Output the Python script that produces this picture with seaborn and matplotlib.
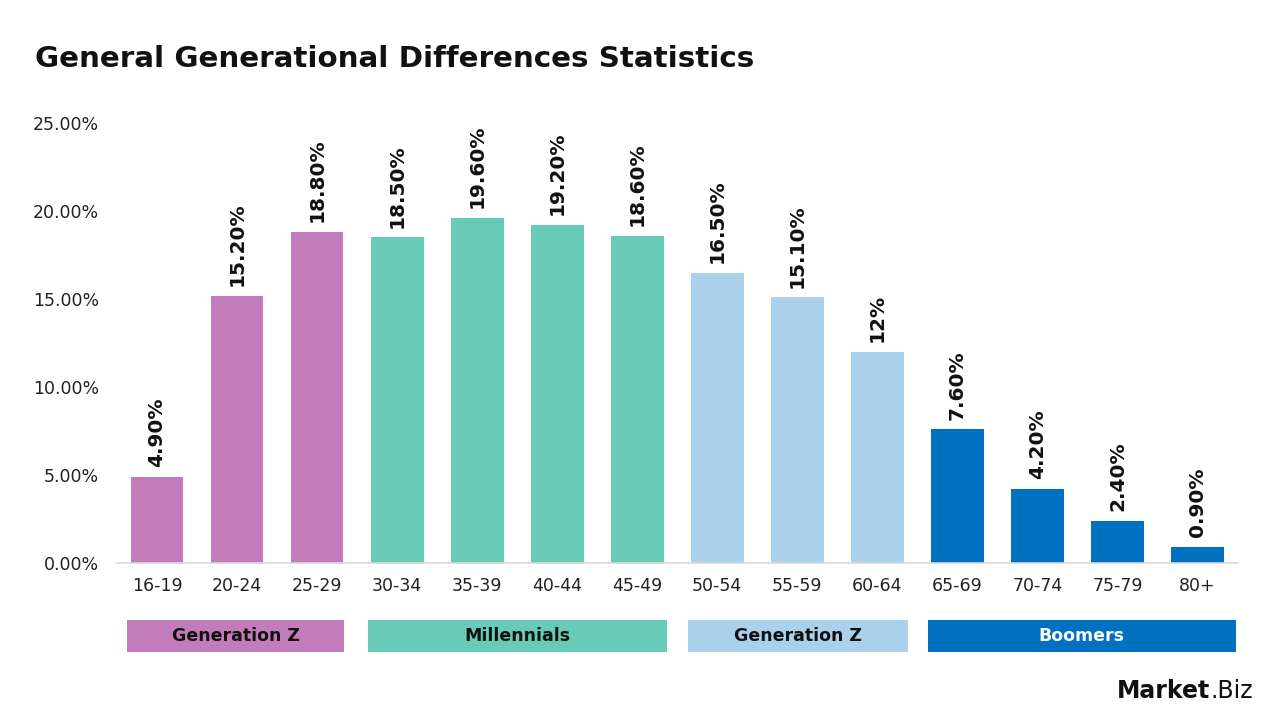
#!/usr/bin/env python3

# plot.py
#
# Generational differences bar chart.
import matplotlib.pyplot as plt
import matplotlib.transforms as mtransforms
from matplotlib.patches import Rectangle
import pandas as pd
import seaborn as sns


AGES = ['16-19', '20-24', '25-29', '30-34', '35-39', '40-44', '45-49',
        '50-54', '55-59', '60-64', '65-69', '70-74', '75-79', '80+']
SHARES = [4.9, 15.2, 18.8, 18.5, 19.6, 19.2, 18.6, 16.5, 15.1, 12.0, 7.6, 4.2, 2.4, 0.9]
LABELS = ['4.90%', '15.20%', '18.80%', '18.50%', '19.60%', '19.20%', '18.60%',
          '16.50%', '15.10%', '12%', '7.60%', '4.20%', '2.40%', '0.90%']
GROUPS = ['Gen Z'] * 3 + ['Millennials'] * 4 + ['Gen X'] * 3 + ['Boomers'] * 4
GROUP_NAMES = ['Generation Z', 'Millennials', 'Generation Z', 'Boomers']
GROUP_KEYS = ['Gen Z', 'Millennials', 'Gen X', 'Boomers']
COLORS = ['#C27BBB', '#67CBB7', '#AAD0EB', '#0070C0']
TEXT_COLORS = ['#111111', '#111111', '#111111', '#FFFFFF']


def make_plot(output):
    data = pd.DataFrame({'age': AGES, 'share': SHARES, 'group': GROUPS})
    palette = dict(zip(GROUP_KEYS, COLORS))

    sns.set_theme(style='white')
    plt.rcParams['font.family'] = ['DejaVu Sans']
    fig = plt.figure(figsize=(12.8, 7.2), dpi=100)
    ax = fig.add_axes([0.0914, 0.218, 0.8754, 0.611])

    sns.barplot(data=data, x='age', y='share', hue='group', palette=palette,
                dodge=False, width=0.66, legend=False, ax=ax, saturation=1,
                linewidth=0)

    # Value labels above bars
    for i, (v, lab) in enumerate(zip(SHARES, LABELS)):
        ax.annotate(lab, (i, v), xytext=(0, 7), textcoords='offset points',
                    rotation=90, ha='center', va='bottom',
                    fontsize=14.5, fontweight='bold', color='#111111')

    ax.set_xlim(-0.5, len(AGES) - 0.5)
    ax.set_ylim(0, 25)
    ax.set_yticks([0, 5, 10, 15, 20, 25])
    ax.set_yticklabels(['{:.2f}%'.format(t) for t in [0, 5, 10, 15, 20, 25]])
    ax.set_xlabel('')
    ax.set_ylabel('')
    ax.tick_params(axis='both', length=0, labelsize=12.5, colors='#222222')
    ax.tick_params(axis='y', pad=13)
    ax.tick_params(axis='x', pad=10)
    for side in ['top', 'right', 'left']:
        ax.spines[side].set_visible(False)
    ax.spines['bottom'].set_color('#D9D9D9')
    ax.spines['bottom'].set_linewidth(1.2)

    # Group boxes below the axis
    trans = mtransforms.blended_transform_factory(ax.transData, ax.transAxes)
    right_pad = [0.34, 0.37, 0.38, 0.48]
    for key, name, color, tcolor, rp in zip(GROUP_KEYS, GROUP_NAMES, COLORS,
                                            TEXT_COLORS, right_pad):
        idx = [i for i, g in enumerate(GROUPS) if g == key]
        x0 = idx[0] - 0.37
        x1 = idx[-1] + rp
        ax.add_patch(Rectangle((x0, -0.202), x1 - x0, 0.0727, transform=trans,
                               facecolor=color, edgecolor='none', clip_on=False))
        ax.text((x0 + x1) / 2, -0.202 + 0.0727 / 2, name, transform=trans,
                ha='center', va='center', fontsize=12.5, fontweight='bold',
                color=tcolor)

    fig.text(0.027, 0.918, 'General Generational Differences Statistics',
             fontsize=21.2, fontweight='bold', color='#111111', va='center')

    # Logo text
    fig.text(0.9455, 0.04, 'Market', fontsize=17, fontweight='bold',
             color='#111111', ha='right', va='center')
    fig.text(0.9455, 0.04, '.Biz', fontsize=17, color='#111111',
             ha='left', va='center')

    fig.savefig(output, dpi=100)
    plt.close(fig)


if __name__ == '__main__':
    make_plot('out.png')
